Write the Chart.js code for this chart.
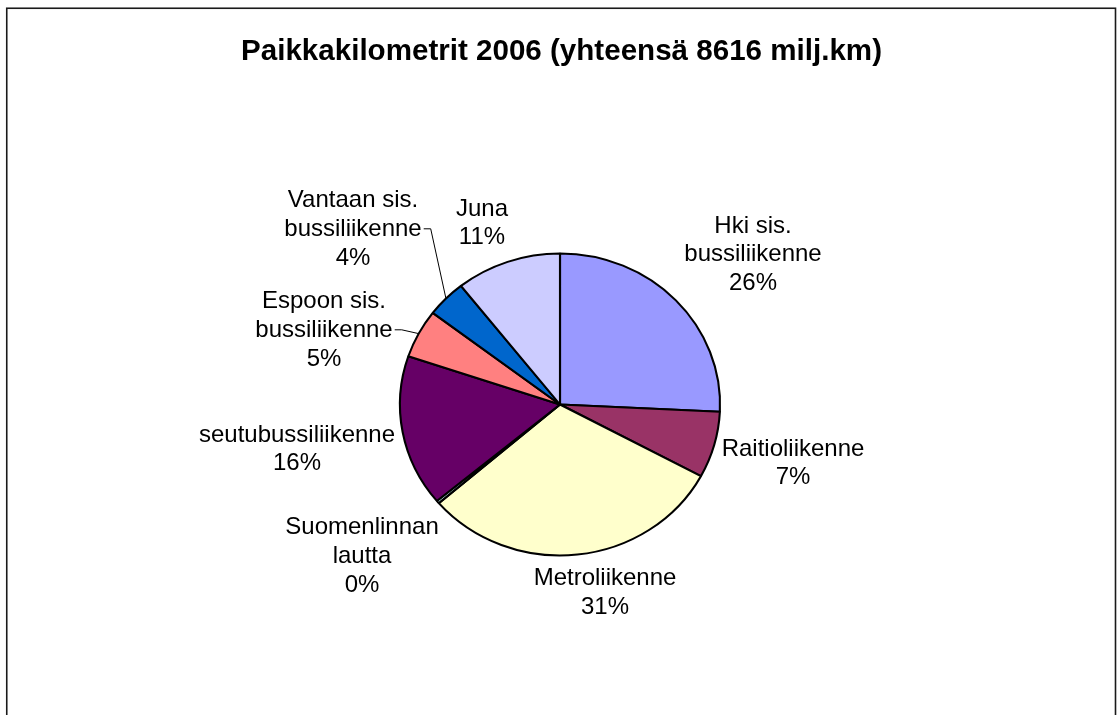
<!DOCTYPE html>
<html>
<head>
<meta charset="utf-8">
<script src="https://cdn.jsdelivr.net/npm/chart.js@4.4.0/dist/chart.umd.min.js"></script>
<style>
html,body{margin:0;padding:0;background:#fff;}
#wrap{width:1117px;height:715px;position:relative;}
</style>
</head>
<body>
<div id="wrap"><canvas id="c" width="1117" height="715"></canvas></div>
<script>
// ---- data ----
const TITLE = 'Paikkakilometrit 2006 (yhteensä 8616 milj.km)';
const categories = ['Hki sis. bussiliikenne', 'Raitioliikenne', 'Metroliikenne', 'Suomenlinnan lautta',
                    'seutubussiliikenne', 'Espoon sis. bussiliikenne', 'Vantaan sis. bussiliikenne', 'Juna'];
const labelLines = [['Hki sis.', 'bussiliikenne'], ['Raitioliikenne'], ['Metroliikenne'], ['Suomenlinnan', 'lautta'],
                    ['seutubussiliikenne'], ['Espoon sis.', 'bussiliikenne'], ['Vantaan sis.', 'bussiliikenne'], ['Juna']];
const values = [2220, 612, 2654, 26, 1396, 448, 345, 915]; // milj. paikkakm
const colors = ['#9999FF', '#993366', '#FFFFCC', '#CCFFFF', '#660066', '#FF8080', '#0066CC', '#CCCCFF'];

// ---- layout (label anchors: centre x, first baseline) ----
const labelPos = [[753, 232.5], [793, 455.5], [605, 585], [362, 534], [297, 441.5], [324, 308], [353, 207], [482, 215.5]];
const leaderIdx = [5, 6];
const LINE_H = 28.8;
const PIE_SX = 1.06;      // horizontal stretch of the pie
const LABEL_FONT = '24px "Liberation Sans", Arial, sans-serif';
const TITLE_FONT = 'bold 29.5px "Liberation Sans", Arial, sans-serif';

function drawStretched(ctx, text, x, y, sx) {
  ctx.save();
  ctx.translate(x, y);
  ctx.scale(sx, 1);
  ctx.fillText(text, 0, 0);
  ctx.restore();
}

const decor = {
  id: 'decor',
  beforeDraw(chart) {
    const ctx = chart.ctx;
    ctx.save();
    ctx.fillStyle = '#fff';
    ctx.fillRect(0, 0, chart.width, chart.height);
    ctx.strokeStyle = '#1a1a1a';
    ctx.lineWidth = 1.6;
    ctx.strokeRect(6.75, 8.25, 1108.75, 800);
    ctx.restore();
  },
  beforeDatasetsDraw(chart) {
    const arc = chart.getDatasetMeta(0).data[0];
    const ctx = chart.ctx;
    ctx.save();
    ctx.translate(arc.x, 0);
    ctx.scale(PIE_SX, 1);
    ctx.translate(-arc.x, 0);
  },
  afterDatasetsDraw(chart) {
    chart.ctx.restore();
  },
  afterDraw(chart) {
    const ctx = chart.ctx;
    const meta = chart.getDatasetMeta(0);
    const total = values.reduce((a, b) => a + b, 0);
    ctx.save();
    ctx.fillStyle = '#000';
    ctx.textAlign = 'center';
    ctx.textBaseline = 'alphabetic';
    // title
    ctx.font = TITLE_FONT;
    const tw = ctx.measureText(TITLE).width;
    drawStretched(ctx, TITLE, 561.5, 60, 641 / tw);
    // labels
    ctx.font = LABEL_FONT;
    values.forEach((v, i) => {
      const lines = labelLines[i].concat([Math.round(v / total * 100) + '%']);
      const [x, y] = labelPos[i];
      lines.forEach((t, k) => drawStretched(ctx, t, x, y + k * LINE_H, 1));
    });
    // leader lines
    ctx.strokeStyle = '#000';
    ctx.lineWidth = 1;
    leaderIdx.forEach(i => {
      const a = meta.data[i];
      const mid = (a.startAngle + a.endAngle) / 2;
      const ex = a.x + Math.cos(mid) * a.outerRadius * PIE_SX;
      const ey = a.y + Math.sin(mid) * a.outerRadius;
      const [x, y] = labelPos[i];
      const w = ctx.measureText(labelLines[i][1]).width;
      const ly = y + LINE_H - 7;
      ctx.beginPath();
      ctx.moveTo(x + w / 2 + 2, ly);
      ctx.lineTo(x + w / 2 + 9, ly);
      ctx.lineTo(ex, ey);
      ctx.stroke();
    });
    ctx.restore();
  }
};

new Chart(document.getElementById('c'), {
  type: 'pie',
  data: {
    labels: categories,
    datasets: [{
      data: values,
      backgroundColor: colors,
      borderColor: '#000',
      borderWidth: 2,
      radius: 151
    }]
  },
  options: {
    responsive: false,
    animation: false,
    events: [],
    layout: { padding: { left: 3, right: 0, top: 94, bottom: 0 } },
    plugins: {
      legend: { display: false },
      title: { display: false },
      tooltip: { enabled: false }
    }
  },
  plugins: [decor]
});
</script>
</body>
</html>
